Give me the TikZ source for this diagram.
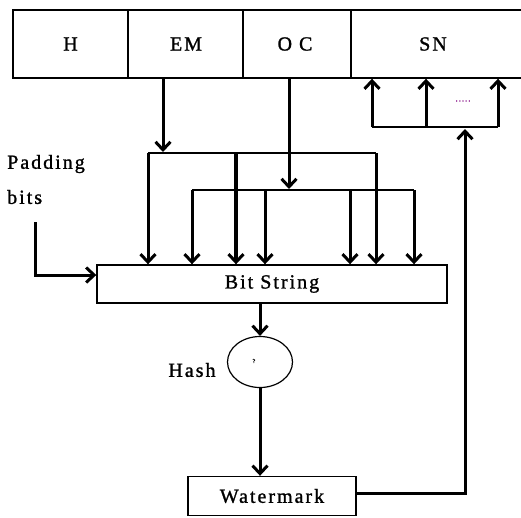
\documentclass[tikz,border=0pt]{standalone}
\usepackage{fontspec}
\setmainfont{Liberation Serif}[LetterSpace=10,FakeBold=1.2]
\usetikzlibrary{arrows.meta,shapes.geometric}
\begin{document}
\begin{tikzpicture}[x=1pt,y=-1pt,
  cell/.style={draw,line width=1.4pt,minimum height=68pt,inner sep=0pt},
  boxstyle/.style={draw,line width=1.4pt,inner sep=0pt},
  lbl/.style={font=\fontsize{20}{22}\selectfont,inner sep=0pt},
  flow/.style={line width=3pt,-{Straight Barb[length=8pt,width=15pt]}},
  thickflow/.style={line width=4.5pt,-{Straight Barb[length=8pt,width=15pt,line width=3pt]}},
  bus/.style={line width=2pt}
]
\useasboundingbox (0,0) rectangle (521,517);
% top record
\node[cell,minimum width=115pt] (h) at (70.5,44) {};
\node[cell,minimum width=115pt] (em) at (185.5,44) {};
\node[cell,minimum width=108pt] (oc) at (297,44) {};
\node[cell,minimum width=190pt,anchor=west] (sn) at (351,44) {};
\node[lbl] (th) at (h.center) {H};
\node[lbl] (tem) at (186,44) {EM};
\node[lbl] (toc) at (295,44) {O C};
\node[lbl] (tsn) at (433,44) {SN};
% bit string box
\node[boxstyle,minimum width=350pt,minimum height=38pt,lbl] (bit) at (272,284) {Bit String};
% hash
\node[draw,ellipse,line width=1.2pt,minimum width=65pt,minimum height=51pt,inner sep=0pt] (hash) at (260,362) {};
\node[font=\fontsize{6}{7}\selectfont,inner sep=0pt] (q) at (254,361) {?};
\node[lbl] (thash) at (192,370) {Hash};
% watermark
\node[boxstyle,minimum width=168pt,minimum height=39pt,lbl] (wm) at (272,496) {Watermark};
% padding bits
\node[lbl,anchor=west] (pad) at (7,164) {Padding};
\node[lbl,anchor=west] (bits) at (7,197) {bits};
% coordinates
\coordinate (emo) at (163,78);
\coordinate (emb) at (163,152);
\coordinate (oco) at (289,78);
\coordinate (ocb) at (289,189);
\coordinate (b1a) at (148,153);
\coordinate (b1b) at (236,153);
\coordinate (b1c) at (376,153);
\coordinate (b2a) at (192,190);
\coordinate (b2b) at (265,190);
\coordinate (b2c) at (350,190);
\coordinate (b2d) at (414,190);
\coordinate (padstart) at (35,222);
\coordinate (padcorner) at (35,275);
\coordinate (wmcorner) at (465,493);
\coordinate (snb) at (465,129);
\coordinate (s1) at (372,127);
\coordinate (s2) at (426,127);
\coordinate (s3) at (498,127);
% EM and OC feeds
\draw[flow] (emo) -- (emb);
\draw[bus] (b1a) -- (b1c);
\draw[flow] (oco) -- (ocb);
\draw[bus] (b2a) -- (b2d);
\foreach \c in {b1a,b1c,b2a,b2b,b2c,b2d}
  \draw[flow] (\c) -- (\c |- bit.north);
\draw[thickflow] (b1b) -- (b1b |- bit.north);
% padding
\draw[flow] (padstart) -- (padcorner) -- (padcorner -| bit.west);
% hash chain
\draw[flow] (bit.south -| hash.north) -- (hash.north);
\draw[flow] (hash.south) -- (hash.south |- wm.north);
% watermark to SN
\draw[flow] (wm.east |- wmcorner) -- (wmcorner) -- (snb);
\draw[bus] (s1) -- (s3);
\foreach \c in {s1,s2,s3}
  \draw[flow] (\c) -- (\c |- sn.south);
\node[font=\fontsize{9}{10}\selectfont,text=violet,inner sep=0pt] (dots) at (463,101) {.....};
\end{tikzpicture}
\end{document}
